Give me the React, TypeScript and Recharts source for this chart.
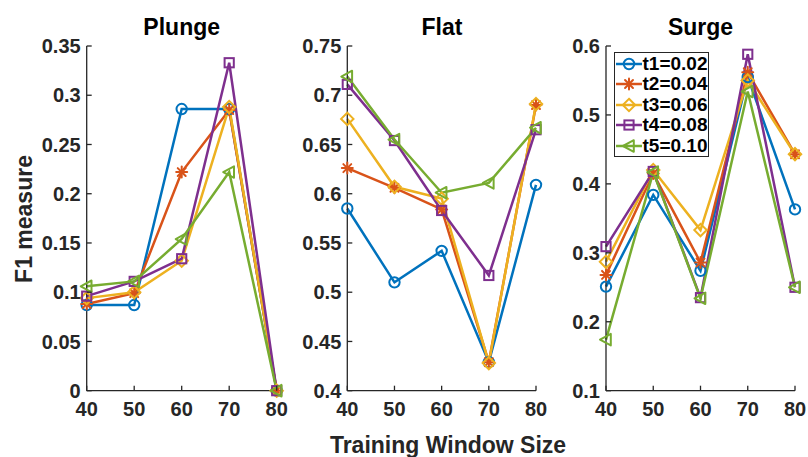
import React from 'react';
import { LineChart, Line, XAxis, YAxis, Legend } from 'recharts';

// ---------- data ----------
const windowSizes = [40, 50, 60, 70, 80];
const seriesKeys = ['t1', 't2', 't3', 't4', 't5'];
const seriesNames = ['t1=0.02', 't2=0.04', 't3=0.06', 't4=0.08', 't5=0.10'];
const seriesColors = ['#0072BD', '#D95319', '#EDB120', '#7E2F8E', '#77AC30'];
const seriesMarkers = ['circle', 'asterisk', 'diamond', 'square', 'triangleLeft'];

const plungeT1 = [0.087, 0.087, 0.286, 0.286, 0];
const plungeT2 = [0.088, 0.099, 0.222, 0.285, 0];
const plungeT3 = [0.094, 0.1, 0.132, 0.288, 0];
const plungeT4 = [0.096, 0.111, 0.134, 0.333, 0];
const plungeT5 = [0.106, 0.111, 0.154, 0.222, 0];

const flatT1 = [0.585, 0.51, 0.542, 0.429, 0.609];
const flatT2 = [0.626, 0.606, 0.584, 0.429, 0.69];
const flatT3 = [0.676, 0.607, 0.595, 0.428, 0.691];
const flatT4 = [0.711, 0.654, 0.583, 0.517, 0.665];
const flatT5 = [0.719, 0.655, 0.601, 0.611, 0.667];

const surgeT1 = [0.251, 0.384, 0.274, 0.555, 0.363];
const surgeT2 = [0.268, 0.415, 0.286, 0.562, 0.443];
const surgeT3 = [0.287, 0.42, 0.333, 0.55, 0.443];
const surgeT4 = [0.309, 0.418, 0.235, 0.588, 0.25];
const surgeT5 = [0.174, 0.417, 0.234, 0.534, 0.25];

const plungeTicks = [0, 0.05, 0.1, 0.15, 0.2, 0.25, 0.3, 0.35];
const flatTicks = [0.4, 0.45, 0.5, 0.55, 0.6, 0.65, 0.7, 0.75];
const surgeTicks = [0.1, 0.2, 0.3, 0.4, 0.5, 0.6];

const panelTitles = ['Plunge', 'Flat', 'Surge'];
const yAxisTitle = 'F1 measure';
const xAxisTitle = 'Training Window Size';

function buildRows(series: number[][]) {
  return windowSizes.map((x, i) => {
    const row: any = { x };
    seriesKeys.forEach((k, s) => {
      row[k] = series[s][i];
    });
    return row;
  });
}

const plungeData = buildRows([plungeT1, plungeT2, plungeT3, plungeT4, plungeT5]);
const flatData = buildRows([flatT1, flatT2, flatT3, flatT4, flatT5]);
const surgeData = buildRows([surgeT1, surgeT2, surgeT3, surgeT4, surgeT5]);

// ---------- styling ----------
const FONT = '"Liberation Sans", Arial, Helvetica, sans-serif';
const AXIS_COLOR = '#262626';
const TICK_FONT = 20;
const TICK_LEN = 5;
const Y_TICK_MARGIN = 6;

function MarkerShape({ kind, color, cx, cy }: { kind: string; color: string; cx: number; cy: number }) {
  const sw = 2;
  if (kind === 'circle') {
    return <circle cx={cx} cy={cy} r={5.2} fill="none" stroke={color} strokeWidth={sw} />;
  }
  if (kind === 'asterisk') {
    const s = 5.5;
    const d = s * 0.72;
    return (
      <g stroke={color} strokeWidth={sw} strokeLinecap="round">
        <line x1={cx - s} y1={cy} x2={cx + s} y2={cy} />
        <line x1={cx} y1={cy - s} x2={cx} y2={cy + s} />
        <line x1={cx - d} y1={cy - d} x2={cx + d} y2={cy + d} />
        <line x1={cx - d} y1={cy + d} x2={cx + d} y2={cy - d} />
      </g>
    );
  }
  if (kind === 'diamond') {
    const s = 6.2;
    return (
      <polygon
        points={`${cx},${cy - s} ${cx + s},${cy} ${cx},${cy + s} ${cx - s},${cy}`}
        fill="none"
        stroke={color}
        strokeWidth={sw}
      />
    );
  }
  if (kind === 'square') {
    const s = 4.6;
    return <rect x={cx - s} y={cy - s} width={2 * s} height={2 * s} fill="none" stroke={color} strokeWidth={sw} />;
  }
  // left-pointing triangle
  return (
    <polygon
      points={`${cx - 6},${cy} ${cx + 4.8},${cy - 5.8} ${cx + 4.8},${cy + 5.8}`}
      fill="none"
      stroke={color}
      strokeWidth={sw}
      strokeLinejoin="round"
    />
  );
}

function makeDot(kind: string, color: string) {
  return (props: any) => {
    const { cx, cy, index } = props;
    if (cx == null || cy == null) return <g key={`e${index}`} />;
    return <MarkerShape key={`m${index}`} kind={kind} color={color} cx={cx} cy={cy} />;
  };
}

function YTick(props: any) {
  const { x, y, payload } = props;
  const axisX = x + Y_TICK_MARGIN;
  return (
    <g>
      <line x1={axisX} y1={y} x2={axisX + TICK_LEN} y2={y} stroke={AXIS_COLOR} strokeWidth={1.3} />
      <text
        x={x}
        y={y + 7.2}
        textAnchor="end"
        fill={AXIS_COLOR}
        fontFamily={FONT}
        fontWeight="bold"
        fontSize={TICK_FONT}
      >
        {String(payload.value)}
      </text>
    </g>
  );
}

function XTick(props: any) {
  const { x, y, payload } = props;
  return (
    <g>
      <line x1={x} y1={y} x2={x} y2={y - TICK_LEN} stroke={AXIS_COLOR} strokeWidth={1.3} />
      <text
        x={x}
        y={y + 25}
        textAnchor="middle"
        fill={AXIS_COLOR}
        fontFamily={FONT}
        fontWeight="bold"
        fontSize={TICK_FONT}
      >
        {String(payload.value)}
      </text>
    </g>
  );
}

function LegendBox() {
  return (
    <div
      style={{
        border: `1.5px solid ${AXIS_COLOR}`,
        background: '#fff',
        padding: '0 1px 0.5px 0.5px',
        whiteSpace: 'nowrap',
        boxSizing: 'content-box',
      }}
    >
      {seriesNames.map((n, i) => (
        <div key={n} style={{ display: 'flex', alignItems: 'center', height: 20.5 }}>
          <svg width={26} height={20} style={{ display: 'block' }}>
            <line x1={0} y1={10} x2={26} y2={10} stroke={seriesColors[i]} strokeWidth={2.5} />
            <MarkerShape kind={seriesMarkers[i]} color={seriesColors[i]} cx={13} cy={10} />
          </svg>
          <span
            style={{
              fontFamily: FONT,
              fontWeight: 'bold',
              fontSize: 19,
              color: '#000',
              marginLeft: 1,
              lineHeight: '20px',
            }}
          >
            {n}
          </span>
        </div>
      ))}
    </div>
  );
}

type Panel = {
  left: number;
  width: number;
  yWidth: number;
  marginRight: number;
  domain: [number, number];
  ticks: number[];
  data: any[];
  legend: boolean;
};

const panels: Panel[] = [
  { left: 0, width: 300, yWidth: 86.7, marginRight: 23.3, domain: [0, 0.35], ticks: plungeTicks, data: plungeData, legend: false },
  { left: 280, width: 280, yWidth: 67.3, marginRight: 24, domain: [0.4, 0.75], ticks: flatTicks, data: flatData, legend: false },
  { left: 540, width: 268, yWidth: 66, marginRight: 13, domain: [0.1, 0.6], ticks: surgeTicks, data: surgeData, legend: true },
];

const titleCenters = [181.7, 442, 700.5];

export default function App() {
  return (
    <div style={{ position: 'absolute', left: 0, top: 0, width: 808, height: 457, background: '#fff', overflow: 'hidden' }}>
      {panels.map((p, pi) => (
        <div key={pi} style={{ position: 'absolute', left: p.left, top: 0 }}>
          <LineChart
            width={p.width}
            height={457}
            data={p.data}
            margin={{ top: 46, right: p.marginRight, bottom: 36.3, left: 0 }}
          >
            <XAxis
              dataKey="x"
              type="number"
              domain={[40, 80]}
              ticks={windowSizes}
              height={30}
              tickSize={0}
              tickMargin={0}
              tickLine={false}
              axisLine={{ stroke: AXIS_COLOR, strokeWidth: 1.3 }}
              tick={<XTick />}
              interval={0}
            />
            <YAxis
              type="number"
              domain={p.domain}
              ticks={p.ticks}
              width={p.yWidth}
              tickSize={0}
              tickMargin={Y_TICK_MARGIN}
              tickLine={false}
              axisLine={{ stroke: AXIS_COLOR, strokeWidth: 1.3 }}
              tick={<YTick />}
              interval={0}
            />
            {seriesKeys.map((k, i) => (
              <Line
                key={k}
                dataKey={k}
                name={seriesNames[i]}
                type="linear"
                stroke={seriesColors[i]}
                strokeWidth={2.5}
                dot={makeDot(seriesMarkers[i], seriesColors[i])}
                activeDot={false}
                isAnimationActive={false}
              />
            ))}
            {p.legend && (
              <Legend
                layout="vertical"
                align="center"
                verticalAlign="middle"
                content={() => <LegendBox />}
                wrapperStyle={{ left: 74, top: 52.3, width: 'auto', height: 'auto' }}
              />
            )}
          </LineChart>
        </div>
      ))}
      <svg
        width={808}
        height={457}
        style={{ position: 'absolute', left: 0, top: 0, pointerEvents: 'none' }}
      >
        {panelTitles.map((t, i) => (
          <text
            key={t}
            x={titleCenters[i]}
            y={35}
            textAnchor="middle"
            fontFamily={FONT}
            fontWeight="bold"
            fontSize={23}
            fill="#000"
          >
            {t}
          </text>
        ))}
        <text
          x={31.7}
          y={219}
          transform="rotate(-90, 31.7, 219)"
          textAnchor="middle"
          fontFamily={FONT}
          fontWeight="bold"
          fontSize={23}
          fill={AXIS_COLOR}
        >
          {yAxisTitle}
        </text>
        <text
          x={448}
          y={453.3}
          textAnchor="middle"
          fontFamily={FONT}
          fontWeight="bold"
          fontSize={23}
          fill={AXIS_COLOR}
        >
          {xAxisTitle}
        </text>
      </svg>
    </div>
  );
}
